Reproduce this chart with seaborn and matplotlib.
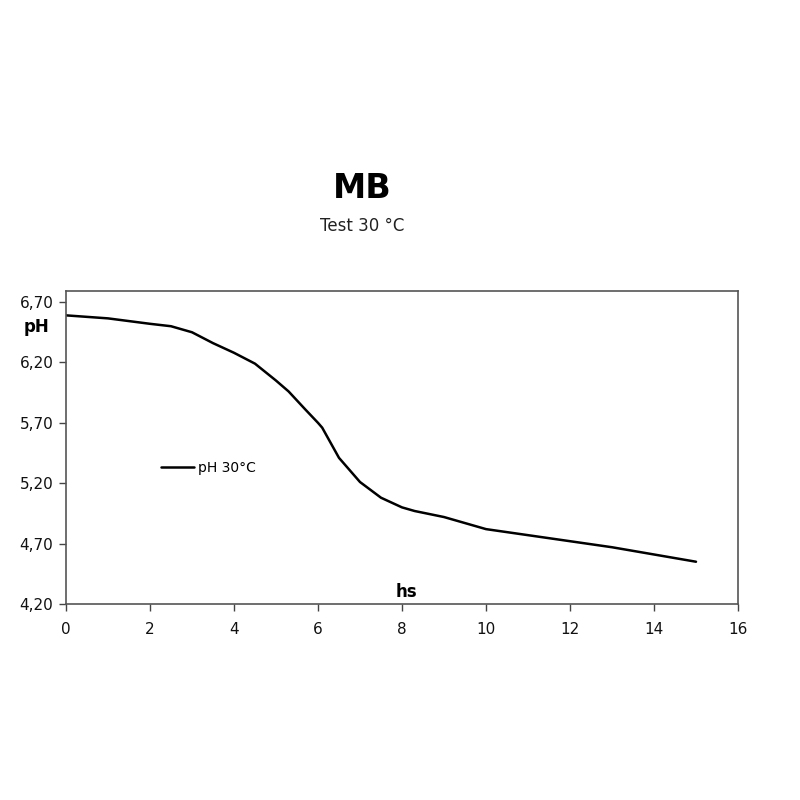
import matplotlib
matplotlib.use("Agg")
import matplotlib.pyplot as plt
import seaborn as sns
import pandas as pd
from matplotlib.ticker import FuncFormatter

# ----------------------------
# Data
# ----------------------------
hours = [0, 1, 2, 2.5, 3, 3.5, 4, 4.5, 5, 5.3, 5.7, 6, 6.1, 6.5, 7, 7.5, 8, 8.3,
         9, 9.3, 10, 11, 12, 13, 14, 15]
ph_30 = [6.59, 6.565, 6.52, 6.50, 6.45, 6.36, 6.28, 6.19, 6.05, 5.96, 5.81, 5.70,
         5.66, 5.41, 5.21, 5.08, 5.00, 4.97, 4.92, 4.89, 4.82, 4.77, 4.72, 4.67,
         4.61, 4.55]
y_ticks = [4.20, 4.70, 5.20, 5.70, 6.20, 6.70]
x_ticks = [0, 2, 4, 6, 8, 10, 12, 14, 16]

df = pd.DataFrame({"hs": hours, "pH": ph_30})

sns.set_style("white")
plt.rcParams['font.family'] = ['DejaVu Sans']
plt.rcParams['text.color'] = 'black'

fig = plt.figure(figsize=(8, 8), dpi=100)
ax = fig.add_axes([0.0825, 0.245, 0.84, 0.391])

sns.lineplot(data=df, x="hs", y="pH", color="black", linewidth=1.8,
             label="pH 30°C", ax=ax)

ax.set_xlim(0, 16)
ax.set_ylim(4.20, 6.79)
ax.set_xticks(x_ticks)
ax.set_yticks(y_ticks)
ax.yaxis.set_major_formatter(FuncFormatter(lambda v, p: f"{v:.2f}".replace(".", ",")))
ax.tick_params(axis="both", direction="out", length=5, width=1, color="#444444",
               labelsize=11, labelcolor="#111111", bottom=True, left=True)
ax.tick_params(axis="x", pad=8)
ax.tick_params(axis="y", pad=4)
ax.set_xlabel("")
ax.set_ylabel("")
for s in ax.spines.values():
    s.set_color("#555555")
    s.set_linewidth(1.2)

# axis labels placed like the original
fig.text(24 / 800, 1 - 327 / 800, "pH", fontsize=12, fontweight="bold", va="center", ha="left")
ax.text(8.1, 4.30, "hs", fontsize=12, fontweight="bold", ha="center", va="center")

# titles
fig.text(362 / 800, 1 - 188 / 800, "MB", fontsize=24, fontweight="bold", ha="center", va="center")
fig.text(362 / 800, 1 - 226 / 800, "Test 30 °C", fontsize=12, ha="center", va="center", color="#222222")

leg = ax.legend(loc="center left", bbox_to_anchor=(148 / 800, 1 - 468 / 800),
                bbox_transform=fig.transFigure, frameon=False, fontsize=10,
                handlelength=2.4, handletextpad=0.3)

fig.savefig("out.png", dpi=100)
